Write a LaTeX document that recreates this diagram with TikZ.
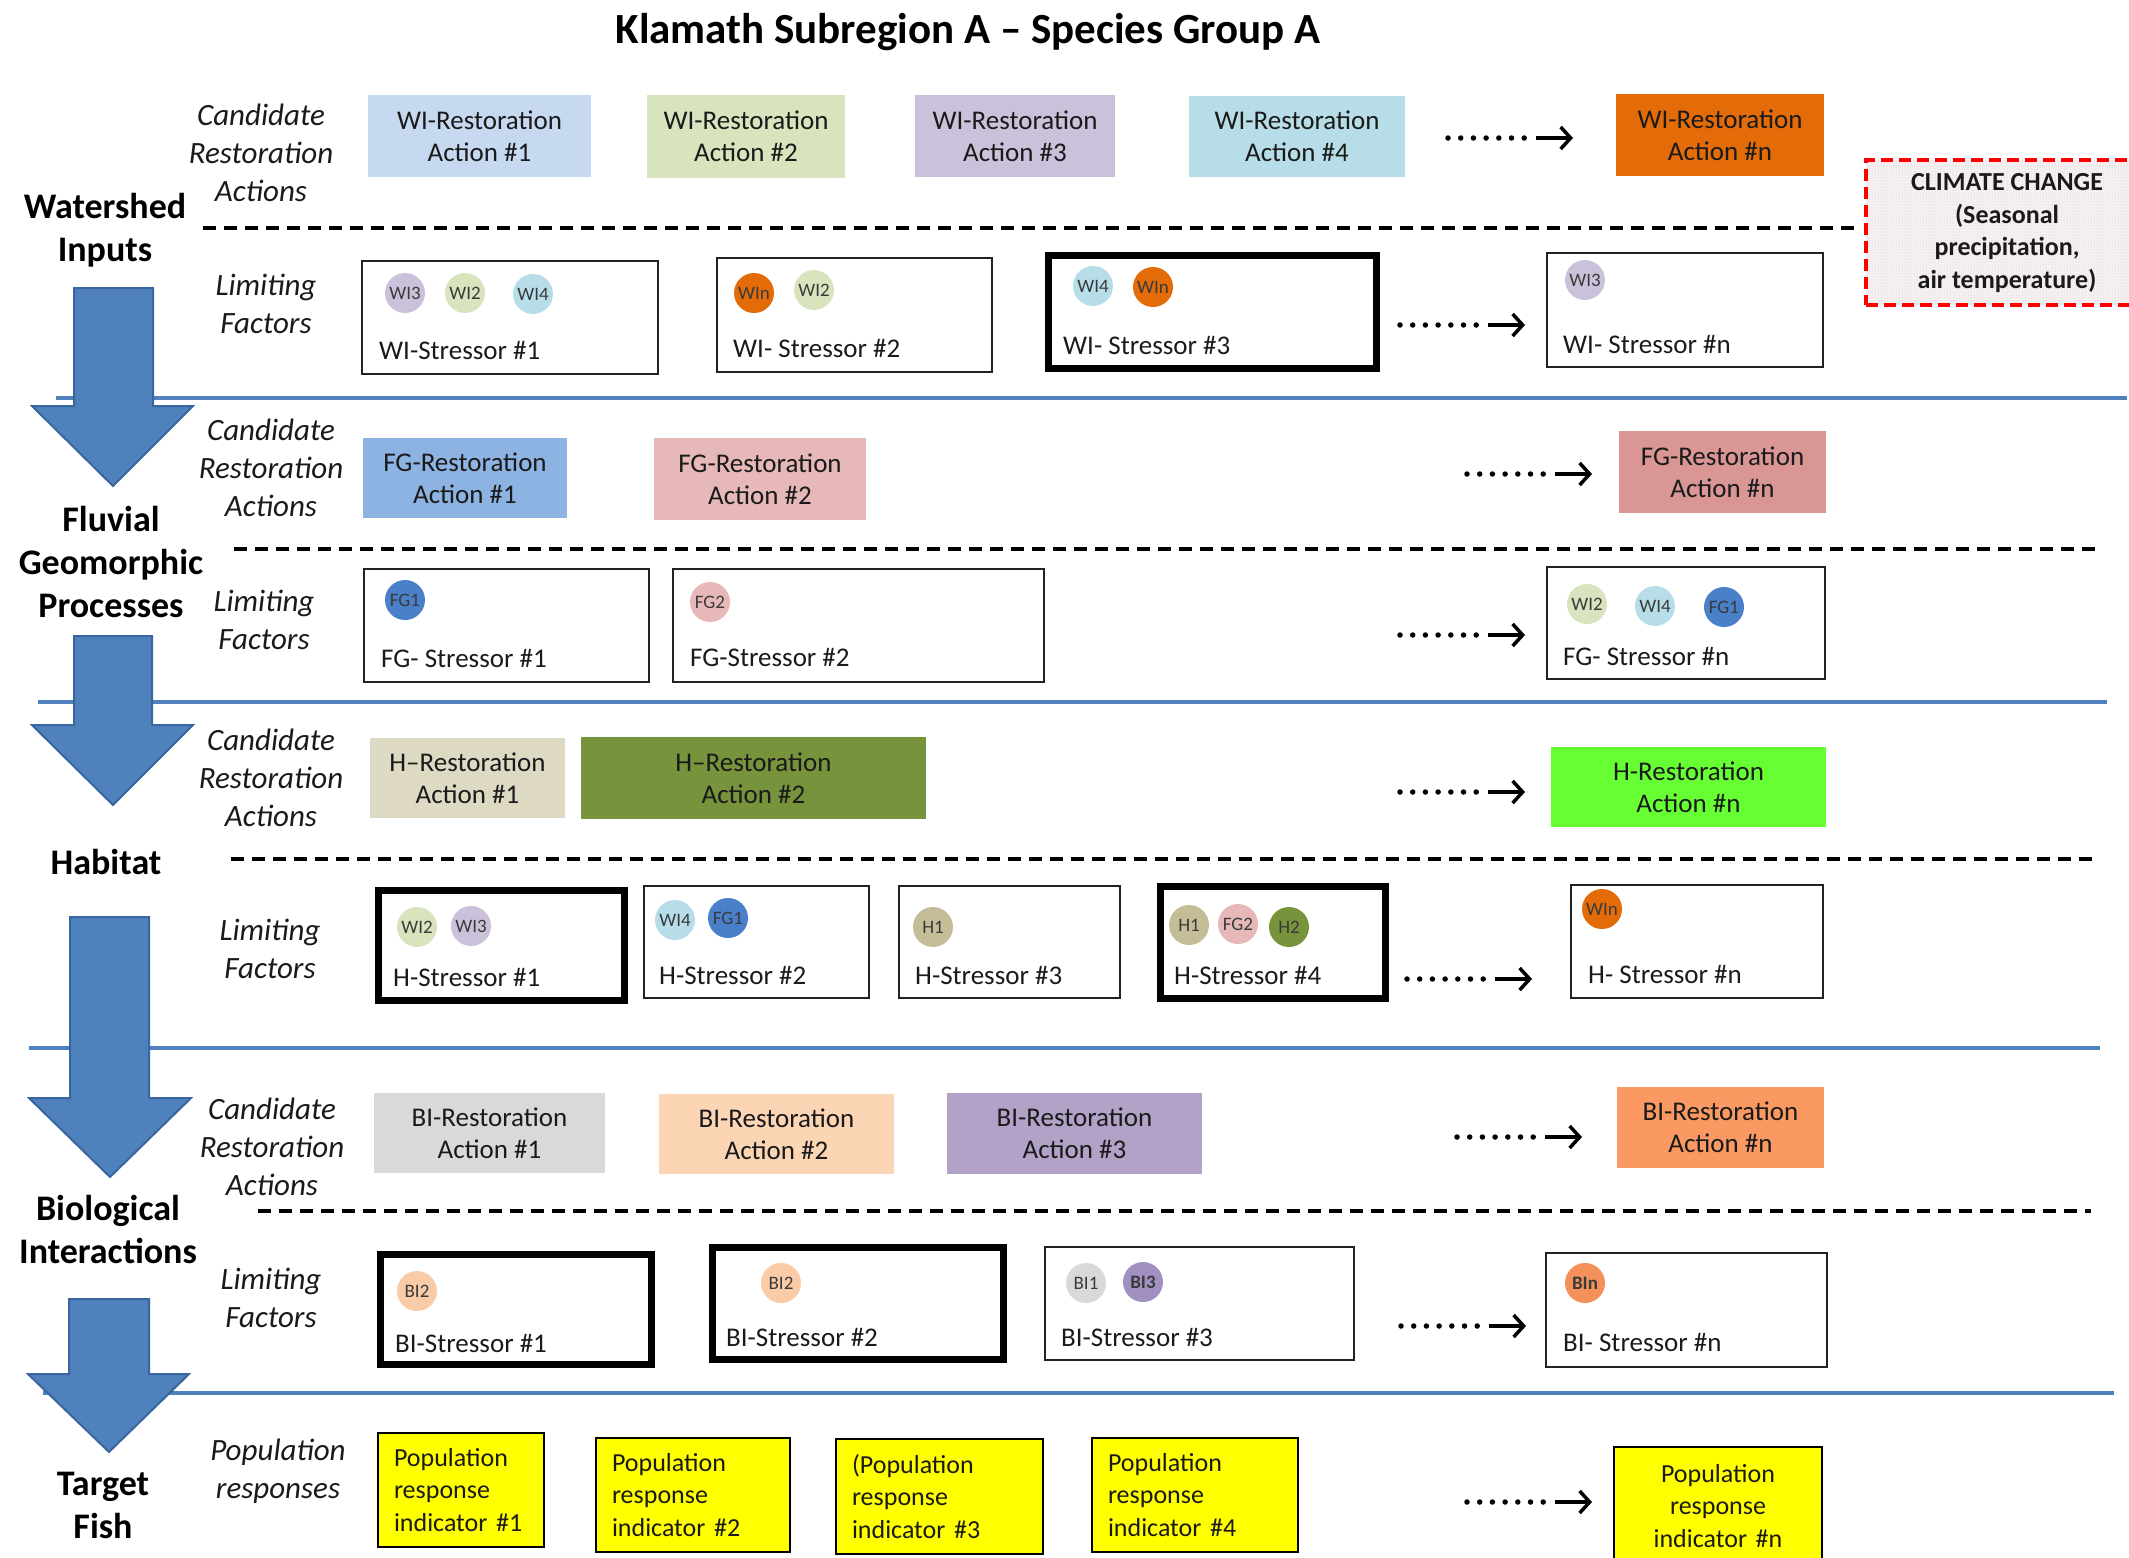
\documentclass[tikz,border=0pt]{standalone}
\usepackage{fontspec}
\setmainfont{Carlito}
\usetikzlibrary{arrows.meta,patterns}
\definecolor{secblue}{HTML}{4F81BD}
\definecolor{arrblue}{HTML}{4F81BD}
\definecolor{arrdark}{HTML}{3A66A0}
\definecolor{txt}{HTML}{1A1A1A}
\definecolor{bubtxt}{HTML}{3A3A3A}
\definecolor{boxline}{HTML}{222222}
\definecolor{cwia}{HTML}{C6D9F1}
\definecolor{cwib}{HTML}{D7E4BD}
\definecolor{cwic}{HTML}{CCC1DA}
\definecolor{cwid}{HTML}{B7DEE8}
\definecolor{cwin}{HTML}{E36C09}
\definecolor{cfga}{HTML}{8DB3E2}
\definecolor{cfgb}{HTML}{E6B9B8}
\definecolor{cfgn}{HTML}{D99694}
\definecolor{cfgdot}{HTML}{4A7FC9}
\definecolor{cha}{HTML}{DDD9C3}
\definecolor{chb}{HTML}{77933C}
\definecolor{chn}{HTML}{66FF33}
\definecolor{chdot}{HTML}{C4BD97}
\definecolor{cbia}{HTML}{D9D9D9}
\definecolor{cbib}{HTML}{FCD5B5}
\definecolor{cbic}{HTML}{B3A2C7}
\definecolor{cbin}{HTML}{FA9A62}
\definecolor{cbibdot}{HTML}{F9CBA7}
\definecolor{cbicdot}{HTML}{A390C2}
\definecolor{cbindot}{HTML}{F4915A}
\definecolor{popy}{HTML}{FFFF00}
\definecolor{climfill}{HTML}{F6F0F0}
\definecolor{climdot}{HTML}{D4C4C4}
\newcommand\mkflow[3]{%
  \path (#2,#3) coordinate (#1a) ++(77,0) coordinate (#1b) ++(11,0) coordinate (#1c) ++(37,0) coordinate (#1d);
  \draw[dotsty] (#1a) -- (#1b);
  \draw[arrsty] (#1c) -- (#1d);
}
\begin{document}
\begin{tikzpicture}[x=1pt,y=-1pt,
  rest/.style={rectangle, inner sep=0pt, align=center, text=txt, font=\fontsize{27}{32}\selectfont},
  thinbox/.style={rectangle, draw=boxline, line width=2pt, inner sep=0pt},
  thickbox/.style={rectangle, draw=black, line width=7pt, inner sep=0pt},
  stxt/.style={anchor=west, inner sep=0pt, text=txt, font=\fontsize{27}{32}\selectfont},
  bub/.style={circle, minimum size=40pt, inner sep=0pt, text=bubtxt, font=\fontsize{19}{19}\selectfont},
  lab/.style={align=center, inner sep=0pt, text=txt, font=\fontsize{31}{38}\selectfont\itshape},
  sec/.style={align=center, inner sep=0pt, text=black, font=\fontsize{36}{43}\selectfont\bfseries},
  popbox/.style={rectangle, draw=black, line width=2pt, fill=popy, inner xsep=16pt, inner ysep=0pt, align=left, text=txt, font=\fontsize{26}{32.5}\selectfont},
  blueline/.style={draw=secblue, line width=4pt},
  dashline/.style={draw=black, line width=3.5pt, dash pattern=on 13pt off 8pt},
  dotsty/.style={draw=black, line width=5.5pt, line cap=round, dash pattern=on 0pt off 12.7pt},
  arrsty/.style={draw=black, line width=3.5pt, -{Straight Barb[length=10pt,width=22pt]}},
  bigarr/.style={fill=arrblue, draw=arrdark, line width=2pt, line join=miter}
]
\useasboundingbox (0,0) rectangle (2129,1558);
\clip (0,0) rectangle (2129,1558);

% section separators
\path (56,398) coordinate (b1a) (2127,398) coordinate (b1b)
      (38,702) coordinate (b2a) (2107,702) coordinate (b2b)
      (29,1048) coordinate (b3a) (2100,1048) coordinate (b3b)
      (43,1393) coordinate (b4a) (2114,1393) coordinate (b4b);
\draw[blueline] (b1a) -- (b1b);
\draw[blueline] (b2a) -- (b2b);
\draw[blueline] (b3a) -- (b3b);
\draw[blueline] (b4a) -- (b4b);

\path (203,228) coordinate (d1a) (1860,228) coordinate (d1b)
      (234,549) coordinate (d2a) (2102,549) coordinate (d2b)
      (231,859) coordinate (d3a) (2095,859) coordinate (d3b)
      (258,1211) coordinate (d4a) (2091,1211) coordinate (d4b);
\draw[dashline] (d1a) -- (d1b);
\draw[dashline] (d2a) -- (d2b);
\draw[dashline] (d3a) -- (d3b);
\draw[dashline] (d4a) -- (d4b);

% big arrows
\draw[bigarr] (74,288) -- (153,288) -- (153,406) -- (193,406) -- (113,486) -- (32,406) -- (74,406) -- cycle;
\draw[bigarr] (74,636) -- (152,636) -- (152,725) -- (193,725) -- (113,805) -- (32,725) -- (74,725) -- cycle;
\draw[bigarr] (70,917) -- (149,917) -- (149,1098) -- (191,1098) -- (110,1177) -- (29,1098) -- (70,1098) -- cycle;
\draw[bigarr] (69,1299) -- (149,1299) -- (149,1374) -- (189,1374) -- (109,1452) -- (28,1374) -- (69,1374) -- cycle;

% title
\node[anchor=base, inner sep=0pt, font=\fontsize{43}{48}\selectfont\bfseries] (title) at (968,43) {Klamath Subregion A – Species Group A};

% section labels
\node[sec] (sWI) at (105,230) {Watershed\\Inputs};
\node[sec] (sFG) at (111,562) {Fluvial\\Geomorphic\\Processes};
\node[sec] (sH) at (106,862) {Habitat};
\node[sec] (sBI) at (108,1229) {Biological\\Interactions};
\node[sec] (sTF) at (103,1505) {Target\\Fish};

% row labels
\node[lab] (l1) at (261,153) {Candidate\\Restoration\\Actions};
\node[lab] (l2) at (266,304) {Limiting\\Factors};
\node[lab] (l3) at (271,468) {Candidate\\Restoration\\Actions};
\node[lab] (l4) at (264,620) {Limiting\\Factors};
\node[lab] (l5) at (271,778) {Candidate\\Restoration\\Actions};
\node[lab] (l6) at (270,949) {Limiting\\Factors};
\node[lab] (l7) at (272,1147) {Candidate\\Restoration\\Actions};
\node[lab] (l8) at (271,1298) {Limiting\\Factors};
\node[lab] (l9) at (278,1471) {Population\\responses};

% ---------- Watershed inputs: restoration actions
\node[rest, fill=cwia, minimum width=223pt, minimum height=82pt] (wr1) at (479.5,136) {WI-Restoration\\Action \#1};
\node[rest, fill=cwib, minimum width=198pt, minimum height=83pt] (wr2) at (746,136.5) {WI-Restoration\\Action \#2};
\node[rest, fill=cwic, minimum width=200pt, minimum height=82pt] (wr3) at (1015,136) {WI-Restoration\\Action \#3};
\node[rest, fill=cwid, minimum width=216pt, minimum height=81pt] (wr4) at (1297,136.5) {WI-Restoration\\Action \#4};
\node[rest, fill=cwin, minimum width=208pt, minimum height=82pt] (wrn) at (1720,135) {WI-Restoration\\Action \#n};
\mkflow{f1}{1448}{138}

% climate change
\node[rectangle, draw=red, line width=4pt, dash pattern=on 12pt off 6pt, preaction={fill=climfill}, pattern=dots, pattern color=climdot, minimum width=274pt, minimum height=145pt, inner sep=0pt] (clim) at (2003,232.5) {};
\node[align=center, inner sep=0pt, text=txt, font=\fontsize{26}{32.7}\selectfont\bfseries] (climt) at (2007,233) {CLIMATE CHANGE\\(Seasonal\\precipitation,\\air temperature)};

% ---------- Watershed inputs: stressors
\node[thinbox, minimum width=296pt, minimum height=113pt] (ws1) at (510,317.5) {};
\node[bub, fill=cwic] (ws1a) at (405,293) {WI3};
\node[bub, fill=cwib] (ws1b) at (465,293) {WI2};
\node[bub, fill=cwid] (ws1c) at (533,294) {WI4};
\node[stxt] (ws1t) at (379,350) {WI-Stressor \#1};

\node[thinbox, minimum width=275pt, minimum height=114pt] (ws2) at (854.5,315) {};
\node[bub, fill=cwin] (ws2a) at (754,293) {WIn};
\node[bub, fill=cwib] (ws2b) at (814,290) {WI2};
\node[stxt] (ws2t) at (733,348) {WI- Stressor \#2};

\node[thickbox, minimum width=328pt, minimum height=113pt] (ws3) at (1212.5,312) {};
\node[bub, fill=cwid] (ws3a) at (1093,286) {WI4};
\node[bub, fill=cwin] (ws3b) at (1153,287) {WIn};
\node[stxt] (ws3t) at (1063,345) {WI- Stressor \#3};

\mkflow{f2}{1400}{325}

\node[thinbox, minimum width=276pt, minimum height=114pt] (wsn) at (1685,310) {};
\node[bub, fill=cwic] (wsna) at (1585,280) {WI3};
\node[stxt] (wsnt) at (1563,344) {WI- Stressor \#n};

% ---------- Fluvial geomorphic: restoration
\node[rest, fill=cfga, minimum width=204pt, minimum height=80pt] (fr1) at (465,478) {FG-Restoration\\Action \#1};
\node[rest, fill=cfgb, minimum width=212pt, minimum height=82pt] (fr2) at (760,479) {FG-Restoration\\Action \#2};
\mkflow{f3}{1467}{474}
\node[rest, fill=cfgn, minimum width=207pt, minimum height=82pt] (frn) at (1722.5,472) {FG-Restoration\\Action \#n};

% ---------- Fluvial geomorphic: stressors
\node[thinbox, minimum width=285pt, minimum height=113pt] (fs1) at (506.5,625.5) {};
\node[bub, fill=cfgdot] (fs1a) at (405,600) {FG1};
\node[stxt] (fs1t) at (381,658) {FG- Stressor \#1};

\node[thinbox, minimum width=371pt, minimum height=113pt] (fs2) at (858.5,625.5) {};
\node[bub, fill=cfgb] (fs2a) at (710,602) {FG2};
\node[stxt] (fs2t) at (690,657) {FG-Stressor \#2};

\mkflow{f4}{1400}{635}

\node[thinbox, minimum width=278pt, minimum height=112pt] (fsn) at (1686,623) {};
\node[bub, fill=cwib] (fsna) at (1587,604) {WI2};
\node[bub, fill=cwid] (fsnb) at (1655,606) {WI4};
\node[bub, fill=cfgdot] (fsnc) at (1724,607) {FG1};
\node[stxt] (fsnt) at (1563,656) {FG- Stressor \#n};

% ---------- Habitat: restoration
\node[rest, fill=cha, minimum width=195pt, minimum height=80pt] (hr1) at (467.5,778) {H–Restoration\\Action \#1};
\node[rest, fill=chb, minimum width=345pt, minimum height=82pt] (hr2) at (753.5,778) {H–Restoration\\Action \#2};
\mkflow{f5}{1400}{792}
\node[rest, fill=chn, minimum width=275pt, minimum height=80pt] (hrn) at (1688.5,787) {H-Restoration\\Action \#n};

% ---------- Habitat: stressors
\node[thickbox, minimum width=246pt, minimum height=110pt] (hs1) at (501.5,945.5) {};
\node[bub, fill=cwib] (hs1a) at (417,927) {WI2};
\node[bub, fill=cwic] (hs1b) at (471,926) {WI3};
\node[stxt] (hs1t) at (393,977) {H-Stressor \#1};

\node[thinbox, minimum width=225pt, minimum height=112pt] (hs2) at (756.5,942) {};
\node[bub, fill=cwid] (hs2a) at (675,920) {WI4};
\node[bub, fill=cfgdot] (hs2b) at (728,918) {FG1};
\node[stxt] (hs2t) at (659,975) {H-Stressor \#2};

\node[thinbox, minimum width=221pt, minimum height=112pt] (hs3) at (1009.5,942) {};
\node[bub, fill=chdot] (hs3a) at (933,927) {H1};
\node[stxt] (hs3t) at (915,975) {H-Stressor \#3};

\node[thickbox, minimum width=225pt, minimum height=112pt] (hs4) at (1273,942.5) {};
\node[bub, fill=chdot] (hs4a) at (1189,925) {H1};
\node[bub, fill=cfgb] (hs4b) at (1238,924) {FG2};
\node[bub, fill=chb] (hs4c) at (1289,927) {H2};
\node[stxt] (hs4t) at (1174,975) {H-Stressor \#4};

\mkflow{f6}{1407}{979}

\node[thinbox, minimum width=252pt, minimum height=113pt] (hsn) at (1697,941.5) {};
\node[bub, fill=cwin] (hsna) at (1602,909) {WIn};
\node[stxt] (hsnt) at (1588,974) {H- Stressor \#n};

% ---------- Biological interactions: restoration
\node[rest, fill=cbia, minimum width=231pt, minimum height=80pt] (br1) at (489.5,1133) {BI-Restoration\\Action \#1};
\node[rest, fill=cbib, minimum width=235pt, minimum height=80pt] (br2) at (776.5,1134) {BI-Restoration\\Action \#2};
\node[rest, fill=cbic, minimum width=255pt, minimum height=81pt] (br3) at (1074.5,1133.5) {BI-Restoration\\Action \#3};
\mkflow{f7}{1457}{1137}
\node[rest, fill=cbin, minimum width=207pt, minimum height=81pt] (brn) at (1720.5,1127.5) {BI-Restoration\\Action \#n};

% ---------- Biological interactions: stressors
\node[thickbox, minimum width=271pt, minimum height=110pt] (bs1) at (516,1309.5) {};
\node[bub, fill=cbibdot] (bs1a) at (417,1291) {BI2};
\node[stxt] (bs1t) at (395,1343) {BI-Stressor \#1};

\node[thickbox, minimum width=291pt, minimum height=112pt] (bs2) at (858,1303.5) {};
\node[bub, fill=cbibdot] (bs2a) at (781,1283) {BI2};
\node[stxt] (bs2t) at (726,1337) {BI-Stressor \#2};

\node[thinbox, minimum width=309pt, minimum height=113pt] (bs3) at (1199.5,1303.5) {};
\node[bub, fill=cbia] (bs3a) at (1086,1283) {BI1};
\node[bub, fill=cbicdot, font=\fontsize{19}{19}\selectfont\bfseries] (bs3b) at (1143,1282) {BI3};
\node[stxt] (bs3t) at (1061,1337) {BI-Stressor \#3};

\mkflow{f8}{1401}{1326}

\node[thinbox, minimum width=281pt, minimum height=114pt] (bsn) at (1686.5,1310) {};
\node[bub, fill=cbindot, font=\fontsize{19}{19}\selectfont\bfseries] (bsna) at (1585,1283) {BIn};
\node[stxt] (bsnt) at (1563,1342) {BI- Stressor \#n};

% ---------- Target fish: population responses
\node[popbox, text width=134pt, minimum height=114pt] (p1) at (461,1490) {Population\\response\\indicator \#1};
\node[popbox, text width=162pt, minimum height=114pt] (p2) at (693,1495) {Population\\response\\indicator \#2};
\node[popbox, text width=175pt, minimum height=115pt] (p3) at (939.5,1496.5) {(Population\\response\\indicator \#3};
\node[popbox, text width=174pt, minimum height=114pt] (p4) at (1195,1495) {Population\\response\\indicator \#4};
\mkflow{f9}{1467}{1502}
\node[popbox, align=center, text width=176pt, minimum height=118pt] (pn) at (1718,1506) {Population\\response\\indicator \#n};
\end{tikzpicture}
\end{document}
